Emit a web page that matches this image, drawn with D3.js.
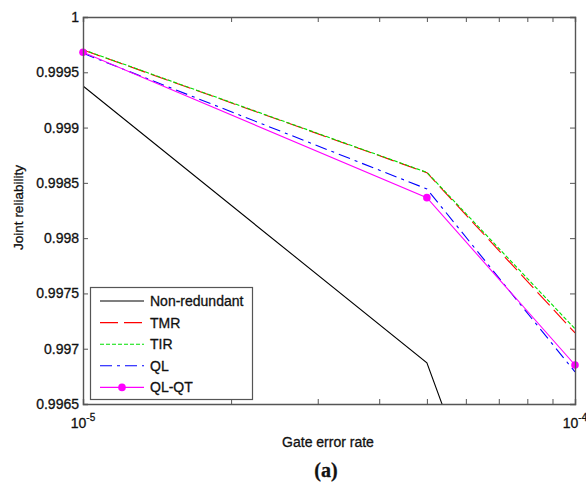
<!DOCTYPE html>
<html>
<head>
<meta charset="utf-8">
<script src="https://cdn.jsdelivr.net/npm/d3@7.9.0/dist/d3.min.js"></script>
<style>
  body { margin: 0; background: #fff; }
  text { font-family: "Liberation Sans", Arial, sans-serif; fill: #111; stroke: #111; stroke-width: 0.3px; }
</style>
</head>
<body>
<svg id="chart" width="586" height="485"></svg>
<script>
// gate error rates (x) and joint reliability per scheme
const errorRates = [1e-5, 5e-5, 1e-4];
const nonRedundant = [0.999376, 0.996872, 0.993224];
const tmr = [0.999702, 0.998592, 0.997143];
const tir = [0.999705, 0.998595, 0.997180];
const ql = [0.999672, 0.998445, 0.996790];
const qlqt = [0.999681, 0.998366, 0.996853];
const yTicks = [0.9965, 0.997, 0.9975, 0.998, 0.9985, 0.999, 0.9995, 1];

const series = [
  { name: 'Non-redundant', values: nonRedundant, color: '#000', dash: null, marker: false },
  { name: 'TMR', values: tmr, color: '#ff0000', dash: '18,6', marker: false },
  { name: 'TIR', values: tir, color: '#00e000', dash: '4,2', marker: false },
  { name: 'QL', values: ql, color: '#0000ff', dash: '12,5,3,5', marker: false },
  { name: 'QL-QT', values: qlqt, color: '#ff00ff', dash: null, marker: true }
];

const svg = d3.select('#chart');
const margin = { left: 83, right: 11, top: 17, bottom: 81 };
const W = 586, H = 485;

const x = d3.scaleLog().domain([1e-5, 1e-4]).range([margin.left, W - margin.right]);
const y = d3.scaleLinear().domain([0.9965, 1]).range([H - margin.bottom, margin.top]);

// clip region for the lines
svg.append('defs').append('clipPath').attr('id', 'clip')
  .append('rect')
  .attr('x', margin.left).attr('y', margin.top)
  .attr('width', x.range()[1] - margin.left)
  .attr('height', y.range()[0] - margin.top);

const line = d3.line()
  .x((d, i) => x(errorRates[i]))
  .y(d => y(d));

const plot = svg.append('g').attr('clip-path', 'url(#clip)');

series.forEach(s => {
  plot.append('path')
    .datum(s.values)
    .attr('d', line)
    .attr('fill', 'none')
    .attr('stroke', s.color)
    .attr('stroke-width', 1.1)
    .attr('stroke-dasharray', s.dash);
  if (s.marker) {
    svg.append('g').selectAll('circle')
      .data(s.values)
      .join('circle')
      .attr('cx', (d, i) => x(errorRates[i]))
      .attr('cy', d => y(d))
      .attr('r', 3.8)
      .attr('fill', s.color);
  }
});

// axes box
const minorTicks = d3.range(2, 10).map(k => k * 1e-5);
const axisColor = '#555';

const axBottom = svg.append('g').attr('transform', `translate(0,${y.range()[0]})`)
  .call(d3.axisBottom(x).tickValues(minorTicks).tickSize(-5).tickFormat(''));
const axTop = svg.append('g').attr('transform', `translate(0,${margin.top})`)
  .call(d3.axisTop(x).tickValues(minorTicks).tickSize(-5).tickFormat(''));
const axLeft = svg.append('g').attr('transform', `translate(${margin.left},0)`)
  .call(d3.axisLeft(y).tickValues(yTicks).tickSize(-5).tickPadding(4)
    .tickFormat(d => d3.format('')(+d.toFixed(4))));
const axRight = svg.append('g').attr('transform', `translate(${x.range()[1]},0)`)
  .call(d3.axisRight(y).tickValues(yTicks).tickSize(-5).tickFormat(''));

[axBottom, axTop, axLeft, axRight].forEach(g => {
  g.select('.domain').attr('stroke', axisColor).attr('stroke-width', 1.4);
  g.selectAll('.tick line').attr('stroke', axisColor);
});
axLeft.selectAll('.tick text')
  .style('font-family', '"Liberation Sans", Arial, sans-serif')
  .style('font-size', '14px')
  .attr('fill', '#111');

// decade labels 10^-5, 10^-4
[[1e-5, '-5'], [1e-4, '-4']].forEach(([v, e]) => {
  const t = svg.append('text')
    .attr('x', x(v)).attr('y', y.range()[0] + 24)
    .attr('text-anchor', 'middle')
    .style('font-size', '14px');
  t.append('tspan').text('10');
  t.append('tspan').attr('dy', -7).style('font-size', '10px').text(e);
});

// axis titles
svg.append('text')
  .attr('x', 328).attr('y', 447)
  .attr('text-anchor', 'middle')
  .style('font-size', '14px')
  .text('Gate error rate');

svg.append('text')
  .attr('transform', `translate(23,${(margin.top + y.range()[0]) / 2 - 3}) rotate(-90)`)
  .attr('text-anchor', 'middle')
  .style('font-size', '13.5px')
  .text('Joint reliability');

svg.append('text')
  .attr('x', 326).attr('y', 477)
  .attr('text-anchor', 'middle')
  .style('font-family', '"Liberation Serif", "Times New Roman", serif')
  .style('font-weight', 'bold')
  .style('font-size', '20px')
  .text('(a)');

// legend
const lg = svg.append('g');
lg.append('rect')
  .attr('x', 90.5).attr('y', 287.5)
  .attr('width', 162).attr('height', 112)
  .attr('fill', '#fff').attr('stroke', axisColor).attr('stroke-width', 1.2);

series.forEach((s, i) => {
  const yy = 301 + i * 21.6;
  lg.append('line')
    .attr('x1', 100).attr('x2', 144)
    .attr('y1', yy).attr('y2', yy)
    .attr('stroke', s.color)
    .attr('stroke-width', 1.1)
    .attr('stroke-dasharray', s.dash);
  if (s.marker) {
    lg.append('circle').attr('cx', 122).attr('cy', yy).attr('r', 3.8).attr('fill', s.color);
  }
  lg.append('text')
    .attr('x', 150).attr('y', yy + 5)
    .style('font-size', '14px')
    .text(s.name);
});
</script>
</body>
</html>
